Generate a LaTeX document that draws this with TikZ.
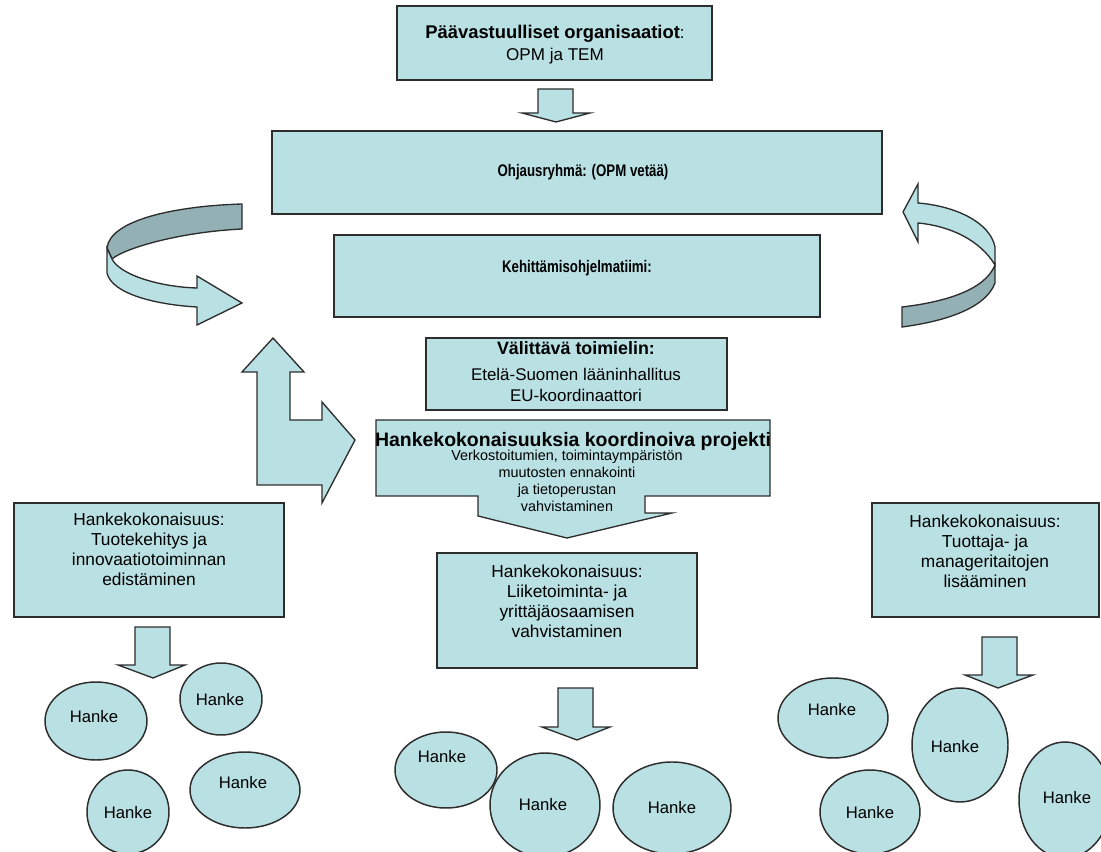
\documentclass[tikz,border=0pt]{standalone}
\usepackage{fontspec}
\setmainfont{Liberation Sans}
\newfontfamily\narrowsans{Liberation Sans}[FakeStretch=0.79]
\definecolor{boxfill}{RGB}{185,224,227}
\definecolor{bandback}{RGB}{147,177,181}
\definecolor{edgeline}{RGB}{45,45,45}
\tikzset{every picture/.style={line width=0.75pt}}
\tikzset{
  panel/.style={draw=edgeline, fill=boxfill, line width=1.1pt},
  bandshade/.style={draw=edgeline, fill=bandback, line width=1pt},
  blockarrow/.style={draw=edgeline, fill=boxfill, line width=1pt, line join=miter},
  txt/.style={inner sep=0.75pt, align=center, font=\fontsize{13}{15}\selectfont},
  heading/.style={inner sep=0.75pt, align=center, font=\narrowsans\fontsize{12.6}{15}\selectfont\bfseries},
  smalltxt/.style={inner sep=0.75pt, align=center, font=\fontsize{10.8}{12.6}\selectfont},
}

\begin{document}
\begin{tikzpicture}[x=0.75pt,y=0.75pt,yscale=-1,xscale=1]
	\path[use as bounding box] (0,0) rectangle (1101,852);
	\clip (0,0) rectangle (1101,852);

	%Shape: Rectangle [Paavastuulliset]
	\draw [panel] (397,6) rectangle (712,80);
	%Shape: Down Arrow
	\draw [blockarrow] (538,89) -- (573,89) -- (573,113) -- (590,113) -- (556,122) -- (522,113) -- (538,113) -- cycle;
	%Shape: Rectangle [Ohjausryhma]
	\draw [panel] (272,131) rectangle (882,214);
	%Shape: Rectangle [Kehittamisohjelmatiimi]
	\draw [panel] (334,235) rectangle (820,317);
	%Shape: Rectangle [Valittava]
	\draw [panel] (426,338) rectangle (727,410);

	%Shape: Curved Arrow, left
	\draw [bandshade] (242,204) .. controls (175,206) and (110,220) .. (107,248) -- (112,259) .. controls (125,248) and (180,232) .. (242,229) -- cycle;
	\draw [blockarrow] (107,248) -- (107,273) .. controls (112,295) and (160,305) .. (197,307) -- (197,325) -- (242,303) -- (197,276) -- (197,288) .. controls (160,287) and (120,275) .. (112,259) -- cycle;
	%Shape: Curved Arrow, right
	\draw [bandshade] (995,265) -- (995,283) .. controls (985,310) and (940,322) .. (902,327) -- (902,307) .. controls (945,302) and (985,290) .. (995,265) -- cycle;
	\draw [blockarrow] (903,212) -- (918,184) -- (918,203) .. controls (955,206) and (990,222) .. (995,247) -- (995,265) .. controls (980,240) and (950,226) .. (918,223) -- (918,242) -- cycle;

	%Shape: Left-Up Arrow
	\draw [blockarrow] (273,338) -- (304,372) -- (290,372) -- (290,420) -- (322,420) -- (322,402) -- (355,440) -- (322,503) -- (322,485) -- (257,485) -- (257,372) -- (242,372) -- cycle;

	%Shape: Down Arrow Callout
	\draw [blockarrow] (376,420) -- (770,420) -- (770,496) -- (645,496) -- (645,513) -- (672,513) -- (567,538) -- (478,516) -- (478,496) -- (376,496) -- cycle;

	%Shape: Rectangles [Hankekokonaisuudet]
	\draw [panel] (14,503) rectangle (284,617);
	\draw [panel] (437,553) rectangle (697,668);
	\draw [panel] (872,503) rectangle (1099,617);

	%Shape: Down Arrows
	\draw [blockarrow] (135,627) -- (170,627) -- (170,665) -- (185,665) -- (153,678) -- (118,665) -- (135,665) -- cycle;
	\draw [blockarrow] (558,688) -- (593,688) -- (593,727) -- (610,727) -- (577,740) -- (542,727) -- (558,727) -- cycle;
	\draw [blockarrow] (982,637) -- (1017,637) -- (1017,675) -- (1033,675) -- (998,688) -- (965,675) -- (982,675) -- cycle;

	%Shape: Ellipses
	\draw [panel] (96,721) ellipse [x radius=51, y radius=39];
	\draw [panel] (221,699) ellipse [x radius=41, y radius=36];
	\draw [panel] (128,812) ellipse [x radius=41, y radius=42];
	\draw [panel] (245,790) ellipse [x radius=55, y radius=38];
	\draw [panel] (446,770) ellipse [x radius=51, y radius=38];
	\draw [panel] (545,805) ellipse [x radius=55, y radius=52];
	\draw [panel] (672,808) ellipse [x radius=59, y radius=46];
	\draw [panel] (833,718) ellipse [x radius=55, y radius=40];
	\draw [panel] (960,745) ellipse [x radius=48, y radius=57];
	\draw [panel] (870,812) ellipse [x radius=50, y radius=42];
	\draw [panel] (1065,800) ellipse [x radius=46, y radius=58];

	% Text Node
	\node [txt, font=\fontsize{12.8}{17}\selectfont] (paa) at (555,44.5) {{\fontsize{13.8}{17}\selectfont\bfseries Päävastuulliset organisaatiot}:\\OPM ja TEM};
	% Text Node
	\node [heading] (ohj) at (583,172) {Ohjausryhmä: (OPM vetää)};
	% Text Node
	\node [heading] (keh) at (577,268) {Kehittämisohjelmatiimi:};
	% Text Node
	\node [txt, anchor=north, font=\fontsize{12.7}{15.5}\selectfont] (val) at (576,340) {{\fontsize{13.4}{15.5}\selectfont\bfseries Välittävä toimielin:}\\[4pt]Etelä-Suomen lääninhallitus\\EU-koordinaattori};
	% Text Node
	\node [txt, font=\fontsize{14.6}{15}\selectfont\bfseries] (koord) at (573,441) {Hankekokonaisuuksia koordinoiva projekti};
	% Text Node
	\node [smalltxt, anchor=north] (verk) at (567,449) {Verkostoitumien, toimintaympäristön\\muutosten ennakointi\\ja tietoperustan\\vahvistaminen};
	% Text Node
	\node [txt, anchor=north] (hk1) at (149,511) {Hankekokonaisuus:\\Tuotekehitys ja\\innovaatiotoiminnan\\edistäminen};
	% Text Node
	\node [txt, anchor=north] (hk2) at (567,563) {Hankekokonaisuus:\\Liiketoiminta- ja\\yrittäjäosaamisen\\vahvistaminen};
	% Text Node
	\node [txt, anchor=north] (hk3) at (985,513) {Hankekokonaisuus:\\Tuottaja- ja\\manageritaitojen\\lisääminen};
	% Text Nodes
	\node [txt, font=\fontsize{12.5}{15}\selectfont] (h1) at (94,717) {Hanke};
	\node [txt, font=\fontsize{12.5}{15}\selectfont] (h2) at (220,700) {Hanke};
	\node [txt, font=\fontsize{12.5}{15}\selectfont] (h3) at (128,813) {Hanke};
	\node [txt, font=\fontsize{12.5}{15}\selectfont] (h4) at (243,783) {Hanke};
	\node [txt, font=\fontsize{12.5}{15}\selectfont] (h5) at (442,757) {Hanke};
	\node [txt, font=\fontsize{12.5}{15}\selectfont] (h6) at (543,805) {Hanke};
	\node [txt, font=\fontsize{12.5}{15}\selectfont] (h7) at (672,808) {Hanke};
	\node [txt, font=\fontsize{12.5}{15}\selectfont] (h8) at (832,710) {Hanke};
	\node [txt, font=\fontsize{12.5}{15}\selectfont] (h9) at (955,747) {Hanke};
	\node [txt, font=\fontsize{12.5}{15}\selectfont] (h10) at (870,813) {Hanke};
	\node [txt, font=\fontsize{12.5}{15}\selectfont] (h11) at (1067,798) {Hanke};
\end{tikzpicture}
\end{document}
